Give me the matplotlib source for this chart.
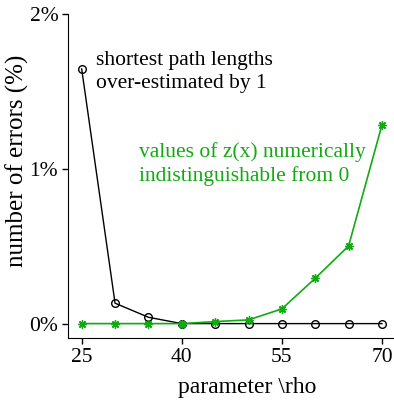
import matplotlib
matplotlib.use("Agg")
import matplotlib.pyplot as plt

rho = [25, 30, 35, 40, 45, 50, 55, 60, 65, 70]
path_errors = [1.645, 0.132, 0.041, 0.0, 0.0, 0.0, 0.0, 0.0, 0.0, 0.0]
z_errors = [0.0, 0.0, 0.0, 0.0, 0.013, 0.024, 0.095, 0.293, 0.502, 1.284]
xticks = [25, 40, 55, 70]
yticks = [0, 1, 2]
ytick_labels = ["0%", "1%", "2%"]

plt.rcParams['font.family'] = ['Liberation Serif', 'DejaVu Serif']
green = '#11aa11'

fig = plt.figure(figsize=(3.94, 4.01), dpi=100)
ax = fig.add_axes([68/394, 1 - 338/401, (394 - 68)/394, (338 - 14)/401])

ax.plot(rho, path_errors, color='black', lw=1.0, marker='o', ms=5.5,
        mfc='none', mec='black', mew=1.0, zorder=3)
ax.plot(rho, z_errors, color=green, lw=1.2, marker=(8, 2, 0), ms=6,
        mec=green, mew=1.0, zorder=4)

ax.set_xlim(22.95, 71.8)
ax.set_ylim(-0.093, 2.0)
ax.set_xticks(xticks)
ax.set_yticks(yticks)
ax.set_yticklabels(ytick_labels)
for s in ['top', 'right']:
    ax.spines[s].set_visible(False)
ax.tick_params(direction='out', length=4, width=1, labelsize=15.5, pad=3)

ax.set_xlabel('parameter \\rho', fontsize=17, va='baseline', ha='center')
ax.xaxis.set_label_coords(0.551, -0.170)
ax.set_ylabel('number of errors (%)', fontsize=18, va='center', ha='center')
ax.yaxis.set_label_coords(-0.156, 0.546)

ax.text(27.15, 1.627, 'shortest path lengths\nover-estimated by 1', fontsize=15.5,
        color='black', va='center', ha='left', linespacing=1.3)
ax.text(33.6, 1.029, 'values of z(x) numerically\nindistinguishable from 0', fontsize=15.5,
        color=green, va='center', ha='left', linespacing=1.3)

fig.savefig('out.png', dpi=100)
